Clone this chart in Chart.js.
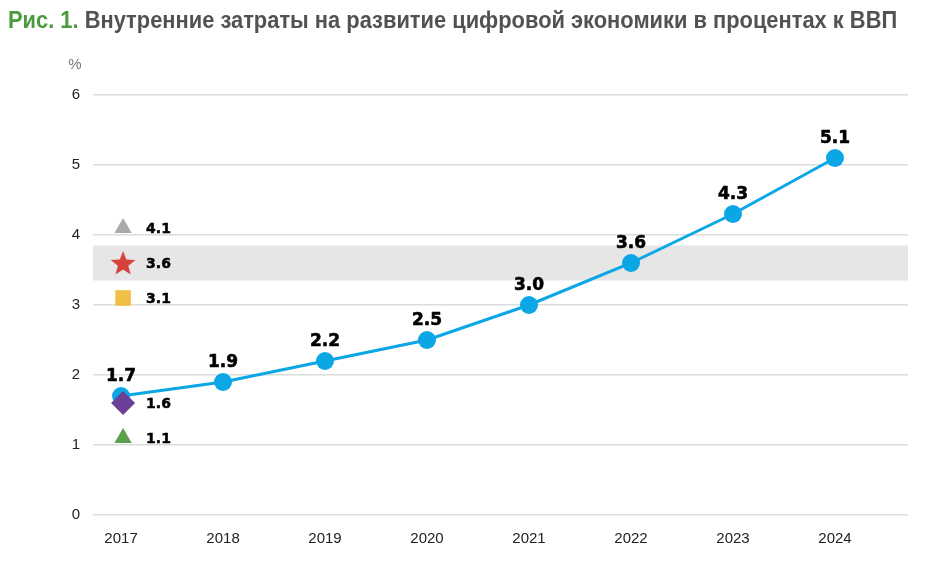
<!DOCTYPE html>
<html>
<head>
<meta charset="utf-8">
<script src="https://cdn.jsdelivr.net/npm/chart.js@4/dist/chart.umd.min.js"></script>
<style>
  html, body { margin: 0; padding: 0; background: #fff; }
  #wrap { position: relative; width: 935px; height: 568px; }
  #title { position: absolute; left: 8px; top: 7px; font: bold 23px "Liberation Sans", Arial, sans-serif; color: #525252; white-space: nowrap; transform-origin: 0 0; }
  #title span { color: #4a9b3c; }
  canvas { position: absolute; left: 0; top: 0; }
</style>
</head>
<body>
<div id="wrap">
  <canvas id="c" width="935" height="568"></canvas>
  <div id="title"><span>Рис. 1.</span> Внутренние затраты на развитие цифровой экономики в процентах к ВВП</div>
</div>
<script>
// data
const years = [2017, 2018, 2019, 2020, 2021, 2022, 2023, 2024];
const gdpShare = [1.7, 1.9, 2.2, 2.5, 3.0, 3.6, 4.3, 5.1];
const refValues = [4.1, 3.6, 3.1, 1.6, 1.1];
const refYear = 2017;
const bandRange = [3.35, 3.85];
const yTicks = [0, 1, 2, 3, 4, 5, 6];

// squeeze title to the condensed width of the original
const t = document.getElementById('title');
t.style.transform = 'scaleX(' + (889 / t.scrollWidth) + ')';

// marker styles for the comparison points
const refColors = ['#a9a9a9', '#d6413a', '#f0bf45', '#6c3f97', '#5a9f4e'];
const refShapes = ['triangle', 'star', 'rect', 'rectRot', 'triangle'];
const refRadius = [10, 12, 11, 12, 10];

function starCanvas(color, size) {
  const c = document.createElement('canvas');
  c.width = c.height = size;
  const g = c.getContext('2d');
  const cx = size / 2, cy = size / 2 + 1, R = size / 2, r = R * 0.42;
  g.beginPath();
  for (let i = 0; i < 10; i++) {
    const a = -Math.PI / 2 + i * Math.PI / 5;
    const rr = i % 2 ? r : R;
    g.lineTo(cx + rr * Math.cos(a), cy + rr * Math.sin(a));
  }
  g.closePath();
  g.fillStyle = color;
  g.fill();
  return c;
}

const refSets = refValues.map((v, i) => ({
  type: 'scatter',
  data: [{ x: refYear + 0.02, y: v }],
  pointStyle: refShapes[i] === 'star' ? starCanvas(refColors[i], 26) : refShapes[i],
  pointRadius: refRadius[i],
  backgroundColor: refColors[i],
  borderColor: refColors[i],
  borderWidth: 0,
  order: 0
}));

const bandPlugin = {
  id: 'band',
  beforeDatasetsDraw(chart) {
    const { ctx, chartArea, scales } = chart;
    const top = scales.y.getPixelForValue(bandRange[1]);
    const bot = scales.y.getPixelForValue(bandRange[0]);
    ctx.save();
    ctx.fillStyle = '#e6e6e6';
    ctx.fillRect(chartArea.left, top, chartArea.right - chartArea.left, bot - top);
    ctx.restore();
  }
};

const labelPlugin = {
  id: 'labels',
  afterDatasetsDraw(chart) {
    const { ctx } = chart;
    ctx.save();
    ctx.fillStyle = '#000';
    ctx.strokeStyle = '#000';
    ctx.lineJoin = 'round';
    ctx.textBaseline = 'alphabetic';
    // main series labels (stroked a little to get the heavy face)
    const meta = chart.getDatasetMeta(chart.data.datasets.length - 1);
    ctx.font = 'bold 17px "DejaVu Sans", sans-serif';
    ctx.textAlign = 'center';
    ctx.lineWidth = 0.6;
    meta.data.forEach((pt, i) => {
      const s = gdpShare[i].toFixed(1);
      ctx.fillText(s, pt.x, pt.y - 15);
      ctx.strokeText(s, pt.x, pt.y - 15);
    });
    // reference marker labels
    ctx.font = 'bold 14px "DejaVu Sans", sans-serif';
    ctx.textAlign = 'left';
    ctx.lineWidth = 0.5;
    refValues.forEach((v, i) => {
      const pt = chart.getDatasetMeta(i).data[0];
      const s = v.toFixed(1);
      ctx.fillText(s, pt.x + 23, pt.y + 5);
      ctx.strokeText(s, pt.x + 23, pt.y + 5);
    });
    // unit
    ctx.font = '15px "Liberation Sans", Arial, sans-serif';
    ctx.fillStyle = '#777';
    ctx.textAlign = 'center';
    ctx.textBaseline = 'middle';
    ctx.fillText('%', 75, 65);
    ctx.restore();
  }
};

new Chart(document.getElementById('c'), {
  type: 'line',
  data: {
    datasets: [...refSets, {
      type: 'line',
      data: years.map((y, i) => ({ x: y, y: gdpShare[i] })),
      borderColor: '#0aa6e6',
      backgroundColor: '#0aa6e6',
      borderWidth: 3,
      pointRadius: 9,
      pointHoverRadius: 9,
      pointBorderWidth: 0,
      tension: 0,
      order: 1
    }]
  },
  options: {
    responsive: false,
    animation: false,
    events: [],
    layout: { padding: { top: 95, right: 27, bottom: 0, left: 0 } },
    plugins: { legend: { display: false }, tooltip: { enabled: false }, title: { display: false } },
    scales: {
      x: {
        type: 'linear',
        min: 2016.725,
        max: 2024.716,
        afterBuildTicks(scale) { scale.ticks = years.map(v => ({ value: v })); },
        afterFit(scale) { scale.height = 53; },
        grid: { display: false },
        border: { display: false },
        ticks: {
          padding: 7,
          color: '#222',
          font: { size: 15, family: '"Liberation Sans", Arial, sans-serif' },
          callback: v => String(v)
        }
      },
      y: {
        min: 0,
        max: 6,
        afterBuildTicks(scale) { scale.ticks = yTicks.map(v => ({ value: v })); },
        afterFit(scale) { scale.width = 93; },
        grid: { color: '#dcdcdc', lineWidth: 1.5, drawTicks: false },
        border: { display: false },
        ticks: {
          padding: 13,
          color: '#222',
          font: { size: 15, family: '"Liberation Sans", Arial, sans-serif' }
        }
      }
    }
  },
  plugins: [bandPlugin, labelPlugin]
});
</script>
</body>
</html>
